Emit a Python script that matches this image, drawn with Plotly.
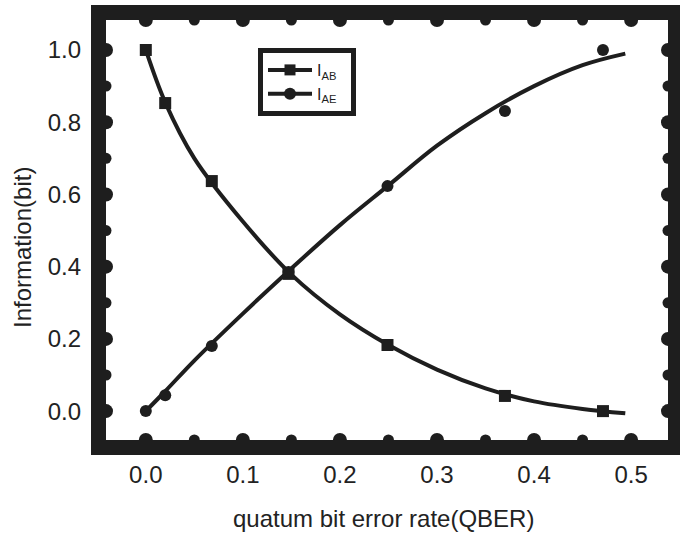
import plotly.graph_objects as go

# measured data points
qber_pts = [0.0, 0.02, 0.068, 0.147, 0.249, 0.37, 0.471]
i_ab_pts = [1.0, 0.853, 0.637, 0.38, 0.183, 0.042, 0.0]
i_ae_pts = [0.0, 0.044, 0.18, 0.385, 0.623, 0.831, 1.0]

# fitted curves
qber_fit = [0.0, 0.02, 0.05, 0.1, 0.15, 0.2, 0.25, 0.3, 0.35, 0.4, 0.45, 0.494]
i_ab_fit = [1.0, 0.855, 0.70, 0.525, 0.378, 0.268, 0.183, 0.115, 0.063, 0.027, 0.006, -0.006]
i_ae_fit = [0.0, 0.055, 0.14, 0.27, 0.395, 0.515, 0.625, 0.735, 0.825, 0.9, 0.958, 0.99]

x_ticks = [0.0, 0.1, 0.2, 0.3, 0.4, 0.5]
x_minor = [0.05, 0.15, 0.25, 0.35, 0.45]
y_ticks = [0.0, 0.2, 0.4, 0.6, 0.8, 1.0]
y_minor = [0.1, 0.3, 0.5, 0.7, 0.9]

x_range = [-0.041, 0.538]
y_range = [-0.08, 1.083]

x_title = "quatum bit error rate(QBER)"
y_title = "Information(bit)"
legend_names = ["I<sub>AB</sub>&nbsp;&nbsp;", "I<sub>AE</sub>&nbsp;&nbsp;"]

ink = "#1e1e1e"
txt = "#222222"
font = "Liberation Sans, Arial, sans-serif"

W, H = 680, 537
ML, MR, MT, MB = 106, 12, 20, 97
PW, PH = W - ML - MR, H - MT - MB
FRAME = 15

fig = go.Figure()

# tick bumps (round knobs on the inner side of the frame)
def bumps(xs, ys, size):
    fig.add_trace(go.Scatter(x=xs, y=ys, mode="markers", cliponaxis=False,
                             marker=dict(symbol="circle", size=size, color=ink),
                             showlegend=False, hoverinfo="skip"))

for ticks, size in ((x_ticks, 14), (x_minor, 11)):
    bumps(ticks, [y_range[0]] * len(ticks), size)
    bumps(ticks, [y_range[1]] * len(ticks), size)
for ticks, size in ((y_ticks, 14), (y_minor, 11)):
    bumps([x_range[0]] * len(ticks), ticks, size)
    bumps([x_range[1]] * len(ticks), ticks, size)

fig.add_trace(go.Scatter(x=qber_fit, y=i_ab_fit, mode="lines", line=dict(color=ink, width=4, shape="spline"),
                         showlegend=False, hoverinfo="skip"))
fig.add_trace(go.Scatter(x=qber_fit, y=i_ae_fit, mode="lines", line=dict(color=ink, width=4, shape="spline"),
                         showlegend=False, hoverinfo="skip"))
fig.add_trace(go.Scatter(x=qber_pts, y=i_ab_pts, mode="markers", showlegend=False,
                         marker=dict(symbol="square", size=12, color=ink)))
fig.add_trace(go.Scatter(x=qber_pts, y=i_ae_pts, mode="markers", showlegend=False,
                         marker=dict(symbol="circle", size=12, color=ink)))
# legend entries (line + marker)
fig.add_trace(go.Scatter(x=[None], y=[None], mode="lines+markers", name=legend_names[0],
                         line=dict(color=ink, width=4), marker=dict(symbol="square", size=11, color=ink)))
fig.add_trace(go.Scatter(x=[None], y=[None], mode="lines+markers", name=legend_names[1],
                         line=dict(color=ink, width=4), marker=dict(symbol="circle", size=12, color=ink)))

# thick frame drawn just outside the plotting area
dx, dy = FRAME / 2 / PW, FRAME / 2 / PH
fig.add_shape(type="rect", xref="paper", yref="paper", x0=-dx, x1=1 + dx, y0=-dy, y1=1 + dy,
              line=dict(color=ink, width=FRAME), layer="above")

axis_common = dict(showline=False, ticks="", showgrid=False, zeroline=False,
                   tickfont=dict(family=font, size=24, color=txt))

fig.update_xaxes(range=x_range, tickvals=x_ticks, ticktext=[f"{v:.1f}" for v in x_ticks],
                 ticklabelstandoff=18, **axis_common)
fig.update_yaxes(range=y_range, tickvals=y_ticks, ticktext=[f"{v:.1f}" for v in y_ticks],
                 ticklabelstandoff=24, **axis_common)

# axis titles as annotations at the reference positions
fig.add_annotation(text=x_title, xref="paper", yref="paper", x=(383 - ML) / PW, y=(H - MB - 518) / PH,
                   xanchor="center", yanchor="middle", showarrow=False,
                   font=dict(family=font, size=24, color=txt))
fig.add_annotation(text=y_title, xref="paper", yref="paper", x=(22 - ML) / PW, y=(H - MB - 248) / PH,
                   xanchor="center", yanchor="middle", showarrow=False, textangle=-90,
                   font=dict(family=font, size=24, color=txt))

fig.update_layout(
    width=W, height=H,
    margin=dict(l=ML, r=MR, t=MT, b=MB, autoexpand=False),
    paper_bgcolor="white", plot_bgcolor="white",
    legend=dict(x=(258 - ML) / PW, y=(H - MB - 48) / PH, xanchor="left", yanchor="top",
                bgcolor="white", bordercolor=ink, borderwidth=5,
                font=dict(family=font, size=16, color=ink),
                tracegroupgap=0, itemwidth=44),
)

fig.write_html("out.html", config={"displayModeBar": False},
               post_script="document.body.style.margin='0';")
